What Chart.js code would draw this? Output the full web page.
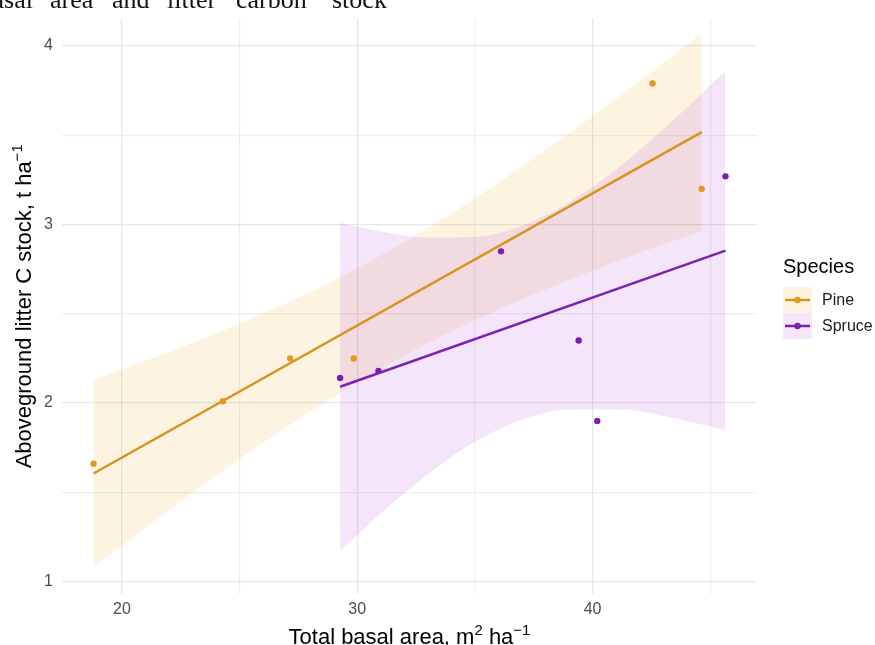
<!DOCTYPE html>
<html>
<head>
<meta charset="utf-8">
<script src="https://cdn.jsdelivr.net/npm/chart.js@4.4.0/dist/chart.umd.min.js"></script>
<style>
  html, body { margin: 0; padding: 0; background: #fff; }
  #chart { display: block; }
</style>
</head>
<body>
<canvas id="chart" width="875" height="645"></canvas>
<script>
// plot level observations (total basal area vs litter C)
const pineBasal = [18.79, 24.29, 27.15, 29.85, 42.55, 44.64];
const pineCarbon = [1.66, 2.01, 2.25, 2.25, 3.79, 3.20];
const spruceBasal = [29.27, 30.90, 36.11, 39.41, 40.20, 45.65];
const spruceCarbon = [2.14, 2.18, 2.85, 2.35, 1.90, 3.27];

// linear fit end points
const pineFitX = [18.79, 44.64];
const pineFitY = [1.605, 3.518];
const spruceFitX = [29.27, 45.65];
const spruceFitY = [2.091, 2.854];

// confidence ribbons
const pineBandX = [18.79, 21, 23, 25, 27, 29, 31, 33, 35, 37, 39, 41, 43, 44.64];
const pineBandLo = [1.080, 1.301, 1.497, 1.686, 1.866, 2.036, 2.192, 2.335, 2.464, 2.581, 2.690, 2.792, 2.889, 2.966];
const pineBandHi = [2.130, 2.237, 2.338, 2.445, 2.560, 2.686, 2.826, 2.979, 3.146, 3.325, 3.512, 3.706, 3.905, 4.070];
const spruceBandX = [29.27, 31, 33, 35, 37, 39, 41, 43, 45.65];
const spruceBandLo = [1.171, 1.381, 1.601, 1.783, 1.907, 1.964, 1.965, 1.928, 1.848];
const spruceBandHi = [3.010, 2.961, 2.927, 2.932, 2.994, 3.124, 3.309, 3.532, 3.860];

const xGrid = [20, 25, 30, 35, 40, 45];
const xLabels = [20, 30, 40];
const yGrid = [1, 1.5, 2, 2.5, 3, 3.5, 4];
const yLabels = [1, 2, 3, 4];
const species = ['Pine', 'Spruce'];

const PINE = '#E29B1D';
const PINE_LINE = '#D8931F';
const SPRUCE = '#7B1FB0';
const SPRUCE_LINE = '#7A22B2';
const PINE_FILL = 'rgba(230,159,0,0.12)';
const SPRUCE_FILL = 'rgba(148,0,211,0.10)';
const FONT = '"Liberation Sans", Arial, sans-serif';

const xy = (xs, ys) => xs.map((x, i) => ({ x, y: ys[i] }));

function band(xs, lo, hi, fill, order) {
  return [
    { data: xy(xs, lo), borderWidth: 0, pointRadius: 0, fill: false,
      cubicInterpolationMode: 'monotone', order },
    { data: xy(xs, hi), borderWidth: 0, pointRadius: 0, backgroundColor: fill,
      fill: '-1', cubicInterpolationMode: 'monotone', order }
  ];
}

// draw text with superscript pieces, centred on (x, y)
function drawRich(ctx, parts, x, y) {
  const base = '22px ' + FONT, sup = '15px ' + FONT;
  let w = 0;
  parts.forEach(p => { ctx.font = p[1] ? sup : base; w += ctx.measureText(p[0]).width; });
  let cx = x - w / 2;
  ctx.textAlign = 'left';
  ctx.textBaseline = 'alphabetic';
  parts.forEach(p => {
    ctx.font = p[1] ? sup : base;
    ctx.fillText(p[0], cx, p[1] ? y - 9 : y);
    cx += ctx.measureText(p[0]).width;
  });
}

const decorations = {
  id: 'decorations',
  afterDraw(chart) {
    const ctx = chart.ctx;
    const area = chart.chartArea;
    ctx.save();

    // leftover caption line from the page above the figure
    ctx.fillStyle = '#111';
    ctx.font = '26px "Liberation Serif", "Times New Roman", serif';
    ctx.textBaseline = 'alphabetic';
    ctx.textAlign = 'right';
    ctx.fillText('basal', 33, 8);
    ctx.textAlign = 'left';
    [['area', 50], ['and', 112], ['litter', 167], ['carbon', 236], ['stock', 332]]
      .forEach(w => ctx.fillText(w[0], w[1], 8));

    // axis titles
    ctx.fillStyle = '#000';
    drawRich(ctx, [['Total basal area, m', false], ['2', true], [' ha', false], ['\u22121', true]],
      (area.left + area.right) / 2, 644);
    ctx.save();
    ctx.translate(31, (area.top + area.bottom) / 2);
    ctx.rotate(-Math.PI / 2);
    drawRich(ctx, [['Aboveground litter C stock, t ha', false], ['\u22121', true]], 0, 0);
    ctx.restore();

    // legend
    ctx.fillStyle = '#000';
    ctx.font = '20px ' + FONT;
    ctx.textAlign = 'left';
    ctx.textBaseline = 'middle';
    ctx.fillText('Species', 783, 267);
    const rows = [
      { label: species[0], fill: PINE_FILL, col: PINE_LINE, pt: PINE, y: 300 },
      { label: species[1], fill: SPRUCE_FILL, col: SPRUCE_LINE, pt: SPRUCE, y: 326 }
    ];
    rows.forEach(r => {
      ctx.fillStyle = r.fill;
      ctx.fillRect(783, r.y - 13, 29, 26);
      ctx.strokeStyle = r.col;
      ctx.lineWidth = 2.5;
      ctx.beginPath();
      ctx.moveTo(785, r.y);
      ctx.lineTo(810, r.y);
      ctx.stroke();
      ctx.fillStyle = r.pt;
      ctx.beginPath();
      ctx.arc(797.5, r.y, 3.2, 0, Math.PI * 2);
      ctx.fill();
      ctx.fillStyle = '#1a1a1a';
      ctx.font = '16px ' + FONT;
      ctx.fillText(r.label, 822, r.y + 1);
    });
    ctx.restore();
  }
};

const gridColor = c => (c.tick && c.tick.major) ? '#E6E6E6' : '#EEEEEE';

new Chart(document.getElementById('chart'), {
  type: 'line',
  data: {
    datasets: [
      ...band(pineBandX, pineBandLo, pineBandHi, PINE_FILL, 4),
      ...band(spruceBandX, spruceBandLo, spruceBandHi, SPRUCE_FILL, 3),
      { label: 'Pine fit', data: xy(pineFitX, pineFitY), borderColor: PINE_LINE, borderWidth: 2.5,
        pointRadius: 0, fill: false, order: 2 },
      { label: 'Spruce fit', data: xy(spruceFitX, spruceFitY), borderColor: SPRUCE_LINE, borderWidth: 2.5,
        pointRadius: 0, fill: false, order: 2 },
      { label: species[0], data: xy(pineBasal, pineCarbon), showLine: false, pointRadius: 3.2,
        pointBackgroundColor: PINE, pointBorderWidth: 0, order: 1 },
      { label: species[1], data: xy(spruceBasal, spruceCarbon), showLine: false, pointRadius: 3.2,
        pointBackgroundColor: SPRUCE, pointBorderWidth: 0, order: 1 }
    ]
  },
  options: {
    responsive: false,
    animation: false,
    devicePixelRatio: 1,
    layout: { padding: { top: 14, right: 118, bottom: 0, left: 0 } },
    plugins: { legend: { display: false }, tooltip: { enabled: false } },
    scales: {
      x: {
        type: 'linear',
        min: 17.45,
        max: 46.99,
        afterBuildTicks: axis => { axis.ticks = xGrid.map(v => ({ value: v, major: xLabels.includes(v) })); },
        afterFit: axis => { axis.height = 51; },
        border: { display: false },
        grid: { color: gridColor, lineWidth: 1.2, drawTicks: false },
        ticks: {
          padding: 6,
          color: '#4D4D4D',
          font: { family: FONT, size: 16 },
          maxRotation: 0,
          autoSkip: false,
          callback: v => xLabels.includes(v) ? String(v) : ''
        }
      },
      y: {
        min: 0.93,
        max: 4.154,
        afterBuildTicks: axis => { axis.ticks = yGrid.map(v => ({ value: v, major: yLabels.includes(v) })); },
        afterFit: axis => { axis.width = 62; },
        border: { display: false },
        grid: { color: gridColor, lineWidth: 1.2, drawTicks: false },
        ticks: {
          padding: 9,
          color: '#4D4D4D',
          font: { family: FONT, size: 16 },
          autoSkip: false,
          callback: v => yLabels.includes(v) ? String(v) : ''
        }
      }
    }
  },
  plugins: [decorations]
});
</script>
</body>
</html>
